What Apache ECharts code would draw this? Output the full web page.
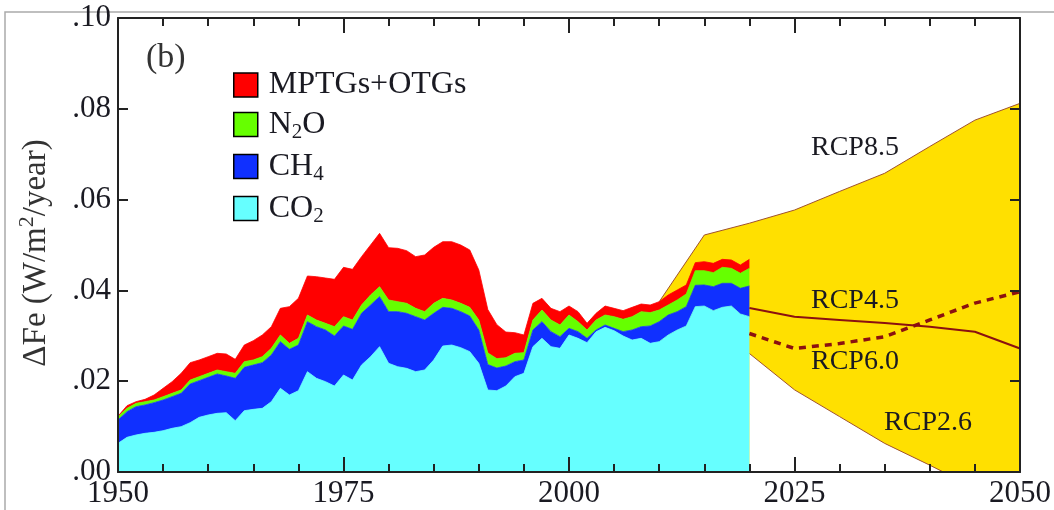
<!DOCTYPE html>
<html>
<head>
<meta charset="utf-8">
<script src="https://cdn.jsdelivr.net/npm/echarts@6/dist/echarts.min.js"></script>
<style>
html,body{margin:0;padding:0;background:#fff;}
#chart{width:1054px;height:510px;}
</style>
</head>
<body>
<div id="chart"></div>
<script>
// ---- data (W/m^2/year) ----
const years = [1950,1951,1952,1953,1954,1955,1956,1957,1958,1959,
  1960,1961,1962,1963,1964,1965,1966,1967,1968,1969,
  1970,1971,1972,1973,1974,1975,1976,1977,1978,1979,
  1980,1981,1982,1983,1984,1985,1986,1987,1988,1989,
  1990,1991,1992,1993,1994,1995,1996,1997,1998,1999,
  2000,2001,2002,2003,2004,2005,2006,2007,2008,2009,
  2010,2011,2012,2013,2014,2015,2016,2017,2018,2019,2020];

const co2 = [0.00631,0.00764,0.00815,0.00852,0.00874,0.00910,0.00962,0.00999,0.01087,0.01204,
  0.01256,0.01292,0.01307,0.01131,0.01351,0.01380,0.01402,0.01549,0.01843,0.01696,
  0.01791,0.02210,0.02063,0.01990,0.01894,0.02137,0.02026,0.02357,0.02540,0.02761,
  0.02394,0.02320,0.02283,0.02210,0.02247,0.02467,0.02775,0.02797,0.02739,0.02651,
  0.02394,0.01806,0.01791,0.01894,0.02100,0.02173,0.02761,0.02944,0.02761,0.02724,
  0.03018,0.02944,0.02849,0.03091,0.03186,0.03113,0.02996,0.02907,0.02944,0.02834,
  0.02871,0.03018,0.03128,0.03216,0.03642,0.03656,0.03554,0.03627,0.03656,0.03480,0.03421];

const ch4 = [0.00514,0.00565,0.00624,0.00624,0.00653,0.00676,0.00697,0.00734,0.00851,0.00808,
  0.00829,0.00867,0.00808,0.00932,0.00954,0.00977,0.01006,0.01028,0.01028,0.01006,
  0.01006,0.01101,0.01138,0.01138,0.01102,0.01079,0.01116,0.01138,0.01138,0.01101,
  0.01138,0.01212,0.01212,0.01211,0.01101,0.01028,0.00852,0.00808,0.00793,0.00785,
  0.00734,0.00560,0.00500,0.00440,0.00330,0.00294,0.00367,0.00367,0.00330,0.00257,
  0.00146,0.00147,0.00095,0.00037,0.00052,0.00051,0.00095,0.00221,0.00257,0.00382,
  0.00440,0.00440,0.00404,0.00426,0.00470,0.00463,0.00528,0.00529,0.00500,0.00566,0.00676];

const n2o = [0.00074,0.00073,0.00073,0.00073,0.00059,0.00073,0.00074,0.00073,0.00088,0.00088,
  0.00088,0.00088,0.00095,0.00110,0.00125,0.00110,0.00132,0.00147,0.00147,0.00132,
  0.00147,0.00147,0.00147,0.00147,0.00205,0.00205,0.00206,0.00183,0.00221,0.00220,
  0.00257,0.00220,0.00220,0.00184,0.00184,0.00220,0.00198,0.00184,0.00183,0.00191,
  0.00220,0.00257,0.00206,0.00183,0.00184,0.00161,0.00220,0.00257,0.00257,0.00257,
  0.00294,0.00220,0.00184,0.00220,0.00220,0.00257,0.00272,0.00293,0.00331,0.00294,
  0.00257,0.00220,0.00257,0.00279,0.00323,0.00316,0.00309,0.00352,0.00330,0.00330,0.00389];

const other = [0.00010,0.00059,0.00037,0.00052,0.00110,0.00184,0.00257,0.00367,0.00382,0.00367,
  0.00367,0.00367,0.00389,0.00309,0.00367,0.00426,0.00478,0.00477,0.00587,0.00808,
  0.00881,0.00859,0.00954,0.00998,0.01043,0.01087,0.01116,0.01065,0.01101,0.01175,
  0.01152,0.01175,0.01160,0.01138,0.01248,0.01234,0.01248,0.01284,0.01285,0.01263,
  0.01101,0.00955,0.00749,0.00565,0.00455,0.00390,0.00367,0.00257,0.00257,0.00294,
  0.00198,0.00221,0.00147,0.00147,0.00198,0.00184,0.00191,0.00206,0.00168,0.00168,
  0.00184,0.00221,0.00220,0.00198,0.00176,0.00198,0.00205,0.00176,0.00184,0.00183,0.00198];

const rcp85Years = [2010,2015,2020,2025,2030,2035,2040,2045,2050];
const rcp85 = [0.0375,0.0522,0.0548,0.0577,0.0618,0.0658,0.0717,0.0775,0.0812];
const scenYears = [2020,2025,2030,2035,2040,2045,2050];
const rcp26 = [0.0261,0.0181,0.0122,0.0063,0.0015,-0.0035,-0.0085];
const rcp45 = [0.0361,0.0342,0.0335,0.0328,0.0320,0.0309,0.0272];
const rcp60 = [0.0305,0.0272,0.0283,0.0298,0.0335,0.0372,0.0397];

const xTicks = [1950,1975,2000,2025,2050];
const yTicks = [0,0.02,0.04,0.06,0.08,0.10];

const seriesNames = ['CO2','CH4','N2O','MPTGs+OTGs'];
const seriesColors = ['#66ffff','#1030ff','#66ff00','#ff0000'];
const seriesVals = [co2, ch4, n2o, other];

// category slots for the stacked bands (one per year of the full x range)
const allYears = [];
for (let y = 1950; y <= 2050; y++) allYears.push(String(y));

// ---- chart ----
const FONT = "'Liberation Serif','Times New Roman',serif";
const INK = '#1a1a22';
const chart = echarts.init(document.getElementById('chart'), null, {renderer:'canvas'});
const pair = (xs, vs) => xs.map((x,i)=>[x, vs[i]]);

function axisX(pos, showLabel){
  return {
    type:'value', min:1950, max:2050, interval:25, position:pos, z:10,
    axisLine:{show:true, onZero:false, lineStyle:{color:'#222', width:2}},
    axisTick:{show:true, inside:true, length:15, lineStyle:{color:'#222', width:2}},
    minorTick:{show:true, splitNumber:5, length:8, lineStyle:{color:'#222', width:2}},
    splitLine:{show:false},
    axisLabel:{show:showLabel, fontFamily:FONT, fontSize:31, color:INK, margin:6,
      formatter: v => xTicks.indexOf(v) >= 0 ? String(v) : ''}
  };
}
function axisY(pos, showLabel){
  return {
    type:'value', min:0, max:0.1, interval:0.02, position:pos, z:10,
    axisLine:{show:true, onZero:false, lineStyle:{color:'#222', width:2}},
    axisTick:{show:true, inside:true, length:10, lineStyle:{color:'#222', width:2}},
    splitLine:{show:false},
    axisLabel:{show:showLabel, fontFamily:FONT, fontSize:31, color:INK, margin:7,
      formatter: v => yTicks.some(t=>Math.abs(t-v)<1e-9) ? v.toFixed(2).replace(/^0/, '') : ''}
  };
}

const yLeft = axisY('left', true);
yLeft.name = '{a|ΔFe (W/m}{s|2}{a|/year)}';
yLeft.nameLocation = 'middle';
yLeft.nameRotate = 90;
yLeft.nameGap = 62;
yLeft.nameTextStyle = {
  fontFamily:FONT, fontSize:33, color:'#333', padding:[0,16,0,0],
  rich:{
    a:{fontFamily:FONT, fontSize:33, color:'#333'},
    s:{fontFamily:FONT, fontSize:22, color:'#333', padding:[0,0,18,0]}
  }
};

const catAxis = {
  type:'category', data:allYears, boundaryGap:false, show:false,
  axisLine:{show:false}, axisTick:{show:false}, axisLabel:{show:false}, splitLine:{show:false}
};

const series = [];
// RCP envelope (upper = RCP8.5 filled yellow, area under RCP2.6 blanked)
series.push({
  name:'RCP8.5', type:'line', z:1, symbol:'none', silent:true, xAxisIndex:0,
  data: pair(rcp85Years, rcp85),
  lineStyle:{color:'#a0522d', width:1},
  areaStyle:{color:'#ffe000', opacity:1, origin:'start'}
});
series.push({
  name:'RCP2.6', type:'line', z:1, symbol:'none', silent:true, xAxisIndex:0,
  data: pair(scenYears, rcp26),
  lineStyle:{color:'#a0522d', width:1},
  areaStyle:{color:'#ffffff', opacity:1, origin:'start'}
});
// stacked GHG contributions (on the hidden per-year category axis)
seriesNames.forEach((n,i)=>{
  series.push({
    name:n, type:'line', stack:'ghg', z:2, symbol:'none', silent:true, xAxisIndex:2,
    color: seriesColors[i],
    data: seriesVals[i],
    lineStyle:{width:0.8},
    areaStyle:{color:seriesColors[i], opacity:1}
  });
});
series.push({
  name:'RCP4.5', type:'line', z:3, symbol:'none', silent:true, xAxisIndex:0,
  data: pair(scenYears, rcp45),
  lineStyle:{color:'#8b1010', width:2}
});
series.push({
  name:'RCP6.0', type:'line', z:3, symbol:'none', silent:true, xAxisIndex:0,
  data: pair(scenYears, rcp60),
  lineStyle:{color:'#8b1010', width:3.5, type:[7,6]}
});

const legendText = {
  'MPTGs+OTGs':'{a|MPTGs+OTGs}',
  'N2O':'{a|N}{s|2}{a|O}',
  'CH4':'{a|CH}{s|4}',
  'CO2':'{a|CO}{s|2}'
};

const option = {
  animation:false,
  backgroundColor:'#ffffff',
  grid:{left:118, right:27, top:18, bottom:38, containLabel:false},
  xAxis:[axisX('bottom', true), axisX('top', false), catAxis],
  yAxis:[yLeft, axisY('right', false)],
  legend:{
    data:['MPTGs+OTGs','N2O','CH4','CO2'],
    orient:'vertical', left:228, top:64,
    icon:'rect', itemWidth:24, itemHeight:24, itemGap:5,
    selectedMode:false,
    itemStyle:{borderColor:'#000', borderWidth:1.5},
    formatter: n => legendText[n],
    textStyle:{
      fontFamily:FONT, fontSize:32, color:INK, padding:[0,0,0,6],
      rich:{
        a:{fontFamily:FONT, fontSize:32, color:INK, lineHeight:30},
        s:{fontFamily:FONT, fontSize:21, color:INK, lineHeight:14, padding:[16,0,0,0]}
      }
    }
  },
  series: series,
  graphic:[
    {type:'polyline', silent:true, shape:{points:[[5,510],[5,12],[1054,12]]},
     style:{stroke:'#aaaaaa', lineWidth:1.5, fill:null}},
    {type:'text', left:146, top:41, silent:true,
     style:{text:'(b)', fontFamily:FONT, fontSize:34, fill:'#333'}}
  ]
};
chart.setOption(option);

// scenario labels anchored in data space
const labels = [
  ['RCP8.5', 2031.7, 0.0714],
  ['RCP4.5', 2031.7, 0.0377],
  ['RCP6.0', 2031.7, 0.0242],
  ['RCP2.6', 2039.8, 0.0108]
];
const g = labels.map((l,i)=>{
  const p = chart.convertToPixel({xAxisIndex:0, yAxisIndex:0}, [l[1], l[2]]);
  return {type:'text', id:'lab'+i, z:20, silent:true, x:p[0], y:p[1],
    style:{text:l[0], fontFamily:FONT, fontSize:28, fill:INK, align:'center', verticalAlign:'middle'}};
});
chart.setOption({graphic: g});
</script>
</body>
</html>
